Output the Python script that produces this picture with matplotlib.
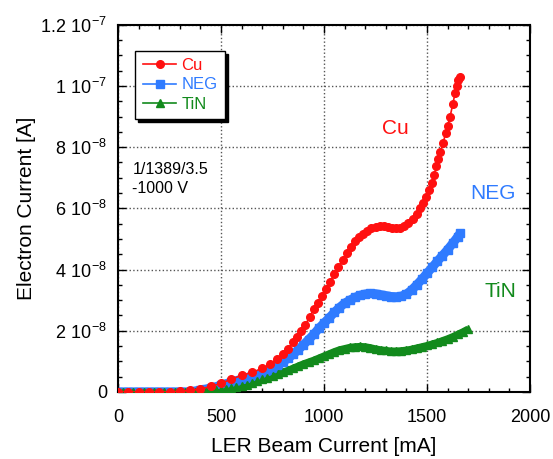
import numpy as np
import matplotlib
matplotlib.use("Agg")
import matplotlib.pyplot as plt
from matplotlib.ticker import FuncFormatter, MultipleLocator

plt.rcParams['font.family'] = ['Liberation Sans', 'DejaVu Sans']
plt.rcParams['mathtext.fontset'] = 'custom'
plt.rcParams['mathtext.rm'] = 'Liberation Sans'

# beam current [mA] and electron current [1e-8 A]
cu_x = [0, 50, 100, 150, 200, 250, 300, 350, 400, 450, 500, 550, 600, 650, 700, 740, 770,
        800, 825, 850, 870, 890, 910, 930, 950, 970, 990, 1010, 1030, 1050, 1070, 1090,
        1110, 1130, 1150, 1170, 1190, 1210, 1230, 1250, 1270, 1290, 1310, 1330, 1350,
        1370, 1390, 1410, 1430, 1450, 1465, 1480, 1495, 1510, 1522, 1535, 1546, 1555,
        1565, 1578, 1590, 1600, 1612, 1625, 1636, 1645, 1652, 1660]
cu_y = [0, 0, 0, 0, 0, 0, 0.02, 0.05, 0.1, 0.18, 0.28, 0.42, 0.54, 0.64, 0.77, 0.92, 1.07,
        1.24, 1.42, 1.62, 1.8, 1.98, 2.2, 2.45, 2.7, 2.92, 3.15, 3.38, 3.6, 3.85, 4.08, 4.3,
        4.55, 4.75, 4.92, 5.06, 5.17, 5.27, 5.35, 5.4, 5.42, 5.42, 5.4, 5.37, 5.35,
        5.37, 5.43, 5.52, 5.65, 5.82, 6.0, 6.18, 6.38, 6.6, 6.84, 7.1, 7.39, 7.6,
        7.85, 8.13, 8.45, 8.7, 9.0, 9.4, 9.76, 10.0, 10.2, 10.3]

neg_x = list(range(0, 1651, 25)) + [1660]
neg_y = [0] * 15 + [0.03, 0.06, 0.09, 0.13, 0.17, 0.22, 0.27, 0.32, 0.37, 0.42, 0.47, 0.52,
        0.57, 0.62, 0.68, 0.77, 0.87, 0.98, 1.1, 1.23, 1.38, 1.54, 1.71, 1.88, 2.08, 2.25,
        2.42, 2.6, 2.76, 2.9, 3.0, 3.09, 3.16, 3.2, 3.22, 3.21, 3.18, 3.15, 3.12,
        3.11, 3.13, 3.2, 3.33, 3.5, 3.68, 3.88, 4.07, 4.27, 4.46, 4.65, 4.86, 5.08, 5.18]

tin_x = list(range(0, 1701, 25))
tin_y = [0] * 17 + [0.02, 0.04, 0.06, 0.08, 0.1, 0.13, 0.16, 0.2, 0.24, 0.29, 0.35, 0.41,
        0.47, 0.53, 0.59, 0.65, 0.71, 0.78, 0.85, 0.92, 0.98, 1.04, 1.11, 1.18, 1.25, 1.32,
        1.38, 1.42, 1.46, 1.48, 1.49, 1.48, 1.45, 1.41, 1.38, 1.36, 1.34, 1.34, 1.35,
        1.37, 1.4, 1.44, 1.48, 1.52, 1.57, 1.62, 1.68, 1.74, 1.81, 1.89, 1.97, 2.06]

red = '#ff1010'
blue = '#2f7bff'
green = '#128a1c'

fig = plt.figure(figsize=(5.53, 4.59), dpi=100)
ax = fig.add_axes([0.2134, 0.146, 0.745, 0.8])

scale = 1e-8
ax.plot(neg_x, np.array(neg_y) * scale, '-', color=blue, lw=6.5, solid_capstyle='butt', zorder=2)
ax.plot(tin_x, np.array(tin_y) * scale, '-', color=green, lw=5, solid_capstyle='butt', zorder=2)
ax.plot(cu_x, np.array(cu_y) * scale, '-o', color=red, ms=5.5, lw=1.2, label='Cu', zorder=4)
ax.plot(neg_x, np.array(neg_y) * scale, '-s', color=blue, ms=6, lw=1.2, label='NEG', zorder=3)
ax.plot(tin_x, np.array(tin_y) * scale, '-^', color=green, ms=5.5, lw=1.2, label='TiN', zorder=3)

ax.set_xlim(0, 2000)
ax.set_ylim(0, 1.2e-7)
ax.xaxis.set_major_locator(MultipleLocator(500))
ax.xaxis.set_minor_locator(MultipleLocator(100))
ax.yaxis.set_major_locator(MultipleLocator(2e-8))
ax.yaxis.set_minor_locator(MultipleLocator(0.5e-8))


def yfmt(v, pos):
    if abs(v) < 1e-12:
        return '0'
    e = int(np.floor(np.log10(abs(v)) + 1e-9))
    m = v / 10 ** e
    ms = ('%.1f' % m).rstrip('0').rstrip('.')
    return r'$\mathregular{%s\ 10^{%d}}$' % (ms, e)


ax.yaxis.set_major_formatter(FuncFormatter(yfmt))
ax.tick_params(which='both', direction='in', top=True, right=True, labelsize=13, colors='black')
ax.tick_params(which='major', length=6, width=1)
ax.tick_params(which='minor', length=3, width=1)
ax.tick_params(axis='x', pad=12)
ax.tick_params(axis='y', pad=8)
for s in ax.spines.values():
    s.set_linewidth(1.5)
ax.grid(True, which='major', linestyle=':', color='#555555', lw=1)

ax.set_xlabel('LER Beam Current [mA]', fontsize=15, labelpad=8)
ax.set_ylabel('Electron Current [A]', fontsize=15, labelpad=3)

leg = ax.legend(loc='upper left', bbox_to_anchor=(0.022, 0.952), fontsize=12, frameon=True,
                fancybox=False, shadow={'color': 'black', 'alpha': 1}, edgecolor='black',
                handlelength=2.0, handletextpad=0.3, borderpad=0.45, labelspacing=0.25)
leg.get_frame().set_linewidth(1)
for t, c in zip(leg.get_texts(), [red, blue, green]):
    t.set_color(c)

ax.text(70, 7.5e-8, '1/1389/3.5\n-1000 V', fontsize=11.5, va='top', ha='left', linespacing=1.3)
ax.text(1345, 8.6e-8, 'Cu', color=red, fontsize=15, ha='center', va='center')
ax.text(1820, 6.5e-8, 'NEG', color=blue, fontsize=15, ha='center', va='center')
ax.text(1855, 3.3e-8, 'TiN', color=green, fontsize=15, ha='center', va='center')

fig.savefig('out.png', dpi=100)
